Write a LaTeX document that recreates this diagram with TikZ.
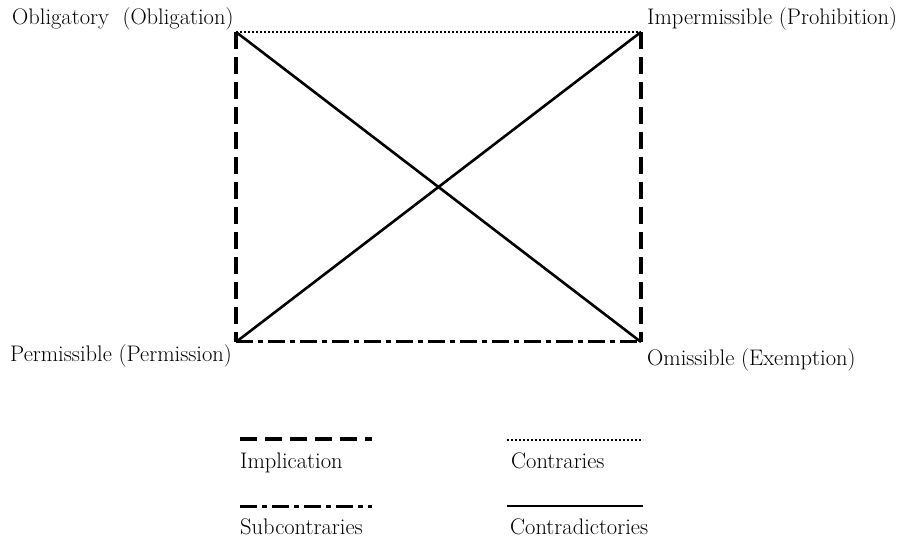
\documentclass[tikz,border=0pt]{standalone}
\begin{document}
\begin{tikzpicture}[x=1pt,y=-1pt,
  lbl/.style={inner sep=0pt,anchor=base west,font=\fontsize{22.5}{26}\selectfont},
  impl/.style={line width=4pt,dash pattern=on 17pt off 8pt},
  contr/.style={line width=1.6pt,dash pattern=on 1.6pt off 2.4pt},
  subc/.style={line width=3pt,dash pattern=on 17pt off 5pt on 5pt off 5pt},
  contrad/.style={line width=2.6pt}]
\useasboundingbox (0,0) rectangle (897,537);
\coordinate (TL) at (236,32);
\coordinate (TR) at (641,32);
\coordinate (BL) at (236,342);
\coordinate (BR) at (641,342);
% square sides
\draw[contr] (TL) -- (TR);
\draw[subc] (BL) -- (BR);
\draw[impl] (TL) -- (BL);
\draw[impl] (TR) -- (BR);
% diagonals
\draw[contrad] (TL) -- (BR);
\draw[contrad] (BL) -- (TR);
% labels
\node[lbl] (ob) at (12,25) {Obligatory\ \ (Obligation)};
\node[lbl] (im) at (647,25) {Impermissible (Prohibition)};
\node[lbl] (pe) at (10,362) {Permissible (Permission)};
\node[lbl] (om) at (647,366) {Omissible (Exemption)};
% legend
\coordinate (l1a) at (240,439); \coordinate (l1b) at (372,439);
\coordinate (l2a) at (507,440); \coordinate (l2b) at (643,440);
\coordinate (l3a) at (240,506); \coordinate (l3b) at (372,506);
\coordinate (l4a) at (507,506); \coordinate (l4b) at (643,506);
\draw[impl] (l1a) -- (l1b);
\draw[contr] (l2a) -- (l2b);
\draw[subc] (l3a) -- (l3b);
\draw[contrad] (l4a) -- (l4b);
\node[lbl] (t1) at (240,468) {Implication};
\node[lbl] (t2) at (511,468) {Contraries};
\node[lbl] (t3) at (240,534) {Subcontraries};
\node[lbl] (t4) at (510,534) {Contradictories};
\end{tikzpicture}
\end{document}
